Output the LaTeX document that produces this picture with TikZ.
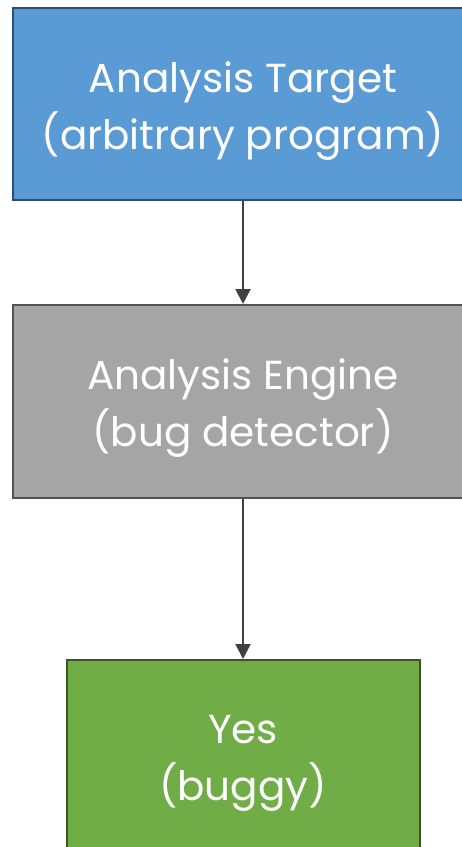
\documentclass[tikz,border=0pt]{standalone}
\usepackage{fontspec}
\setmainfont{Poppins}
\usetikzlibrary{arrows.meta}
\definecolor{tgtfill}{HTML}{5B9BD5}
\definecolor{tgtedge}{HTML}{2E4E6E}
\definecolor{engfill}{HTML}{A5A5A5}
\definecolor{engedge}{HTML}{525252}
\definecolor{yesfill}{HTML}{70AD47}
\definecolor{yesedge}{HTML}{375623}
\definecolor{flow}{HTML}{404040}
\begin{document}
\begin{tikzpicture}[x=1pt,y=1pt,
  box/.style={draw, line width=2pt, rectangle, inner sep=0pt},
  boxtext/.style={text=white, align=center, inner sep=0pt, yshift=-7pt,
    font=\fontsize{40.5}{57}\selectfont},
  flowarrow/.style={draw=flow, line width=2pt,
    -{Triangle[length=15pt,width=15pt]}}]
  \useasboundingbox (0,0) rectangle (462,-847);
  \node[box, fill=tgtfill, draw=tgtedge, minimum width=460, minimum height=192,
    label={[boxtext]center:Analysis Target\\(arbitrary program)}]
    (target) at (243,-104) {};
  \node[box, fill=engfill, draw=engedge, minimum width=460, minimum height=193,
    label={[boxtext]center:Analysis Engine\\(bug detector)}]
    (engine) at (243,-401.5) {};
  \node[box, fill=yesfill, draw=yesedge, minimum width=353, minimum height=192,
    label={[boxtext]center:Yes\\(buggy)}]
    (yes) at (243,-756) {};
  \draw[flowarrow] (target.south) -- (engine.north);
  \draw[flowarrow] (engine.south) -- (yes.north);
\end{tikzpicture}
\end{document}
